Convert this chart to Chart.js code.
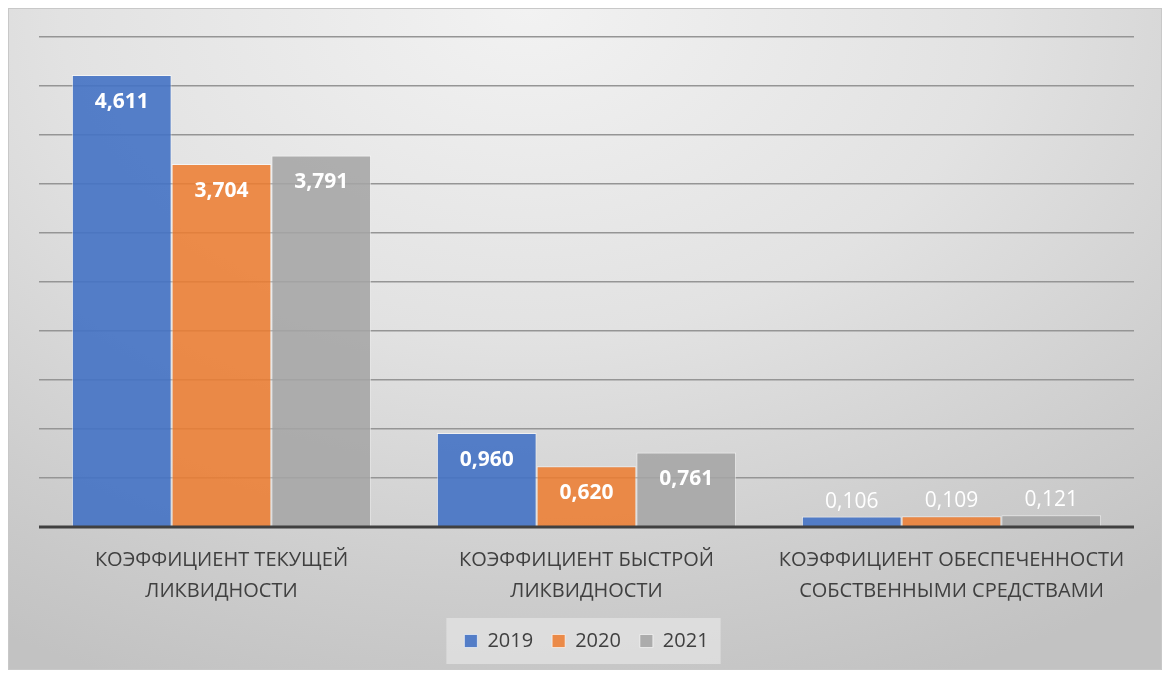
<!DOCTYPE html>
<html>
<head>
<meta charset="utf-8">
<script src="https://cdn.jsdelivr.net/npm/chart.js@4"></script>
<style>
  html, body { margin: 0; padding: 0; background: #fff; }
  #frame {
    position: absolute; left: 8px; top: 8px; width: 1152px; height: 660px;
    border: 1px solid #c8c8c8;
    background: radial-gradient(ellipse 90% 110% at 45% 0%, #f2f2f2 0%, #e2e2e2 45%, #cdcdcd 80%, #c2c2c2 100%);
  }
  #wrap { position: absolute; left: 0; top: 0; width: 1152px; height: 660px; }
</style>
</head>
<body>
<div id="frame"><div id="wrap"><canvas id="grafico"></canvas></div></div>
<script>
// Категории и значения
const categorias = [
    ['КОЭФФИЦИЕНТ ТЕКУЩЕЙ', 'ЛИКВИДНОСТИ'],
    ['КОЭФФИЦИЕНТ БЫСТРОЙ', 'ЛИКВИДНОСТИ'],
    ['КОЭФФИЦИЕНТ ОБЕСПЕЧЕННОСТИ', 'СОБСТВЕННЫМИ СРЕДСТВАМИ']
];
const anos = ['2019', '2020', '2021'];
const valores2019 = [4.611, 0.960, 0.106];
const valores2020 = [3.704, 0.620, 0.109];
const valores2021 = [3.791, 0.761, 0.121];
const cores = ['rgba(68,114,196,0.9)', 'rgba(237,125,49,0.87)', 'rgba(165,165,165,0.88)'];

const fmt = v => v.toFixed(3).replace('.', ',');

// rótulos dentro/fora das barras
const rotulosPlugin = {
    id: 'rotulos',
    afterDatasetsDraw(chart) {
        const ctx = chart.ctx;
        ctx.save();
        ctx.textAlign = 'center';
        ctx.textBaseline = 'middle';
        ctx.fillStyle = '#ffffff';
        chart.data.datasets.forEach((ds, i) => {
            const meta = chart.getDatasetMeta(i);
            meta.data.forEach((bar, j) => {
                const v = ds.data[j];
                const altura = bar.base - bar.y;
                let y;
                if (altura > 40) {
                    ctx.font = 'bold 21px "Open Sans", sans-serif';
                    y = bar.y + 27;
                } else {
                    ctx.font = '21px "Open Sans", sans-serif';
                    y = bar.y - 15;
                }
                ctx.fillText(fmt(v), bar.x, y);
            });
        });
        ctx.restore();
    }
};

// fundo da legenda + linha do eixo
const extrasPlugin = {
    id: 'extras',
    beforeDraw(chart) {
        const boxes = chart.legend.legendHitBoxes;
        if (!boxes || !boxes.length) return;
        const esq = Math.min(...boxes.map(b => b.left));
        const dir = Math.max(...boxes.map(b => b.left + b.width));
        const meio = boxes[0].top + boxes[0].height / 2;
        const ctx = chart.ctx;
        ctx.save();
        ctx.fillStyle = 'rgba(236,236,236,0.55)';
        ctx.fillRect(esq - 18, meio - 23, dir - esq + 30, 46);
        ctx.restore();
    },
    afterDatasetsDraw(chart) {
        const a = chart.chartArea;
        const y = chart.scales.y.getPixelForValue(0);
        const ctx = chart.ctx;
        ctx.save();
        ctx.strokeStyle = '#404040';
        ctx.lineWidth = 3;
        ctx.beginPath();
        ctx.moveTo(a.left, y);
        ctx.lineTo(a.right, y);
        ctx.stroke();
        ctx.restore();
    }
};

new Chart(document.getElementById('grafico'), {
    type: 'bar',
    data: {
        labels: categorias,
        datasets: [
            { label: anos[0], data: valores2019, backgroundColor: cores[0] },
            { label: anos[1], data: valores2020, backgroundColor: cores[1] },
            { label: anos[2], data: valores2021, backgroundColor: cores[2] }
        ].map(d => Object.assign(d, {
            borderColor: 'rgba(255,255,255,0.6)',
            borderWidth: 1,
            categoryPercentage: 0.82,
            barPercentage: 1.0
        }))
    },
    options: {
        responsive: true,
        maintainAspectRatio: false,
        animation: false,
        layout: { padding: { left: 30, right: 27, top: 28, bottom: 8 } },
        plugins: {
            legend: {
                position: 'bottom',
                labels: {
                    color: '#404040',
                    font: { family: '"Open Sans", sans-serif', size: 20 },
                    boxWidth: 13, boxHeight: 13,
                    padding: 19
                }
            },
            tooltip: { enabled: false }
        },
        scales: {
            y: {
                min: 0, max: 5,
                ticks: { display: false, stepSize: 0.5 },
                grid: { color: '#959595', lineWidth: 1.5, drawTicks: false },
                border: { display: false }
            },
            x: {
                ticks: {
                    color: '#404040',
                    font: { family: '"Open Sans", sans-serif', size: 20, lineHeight: 1.55 },
                    padding: 10,
                    maxRotation: 0
                },
                grid: { display: false },
                border: { display: false },
                afterFit(scale) { scale.height = 85; }
            }
        }
    },
    plugins: [rotulosPlugin, extrasPlugin]
});
</script>
</body>
</html>
